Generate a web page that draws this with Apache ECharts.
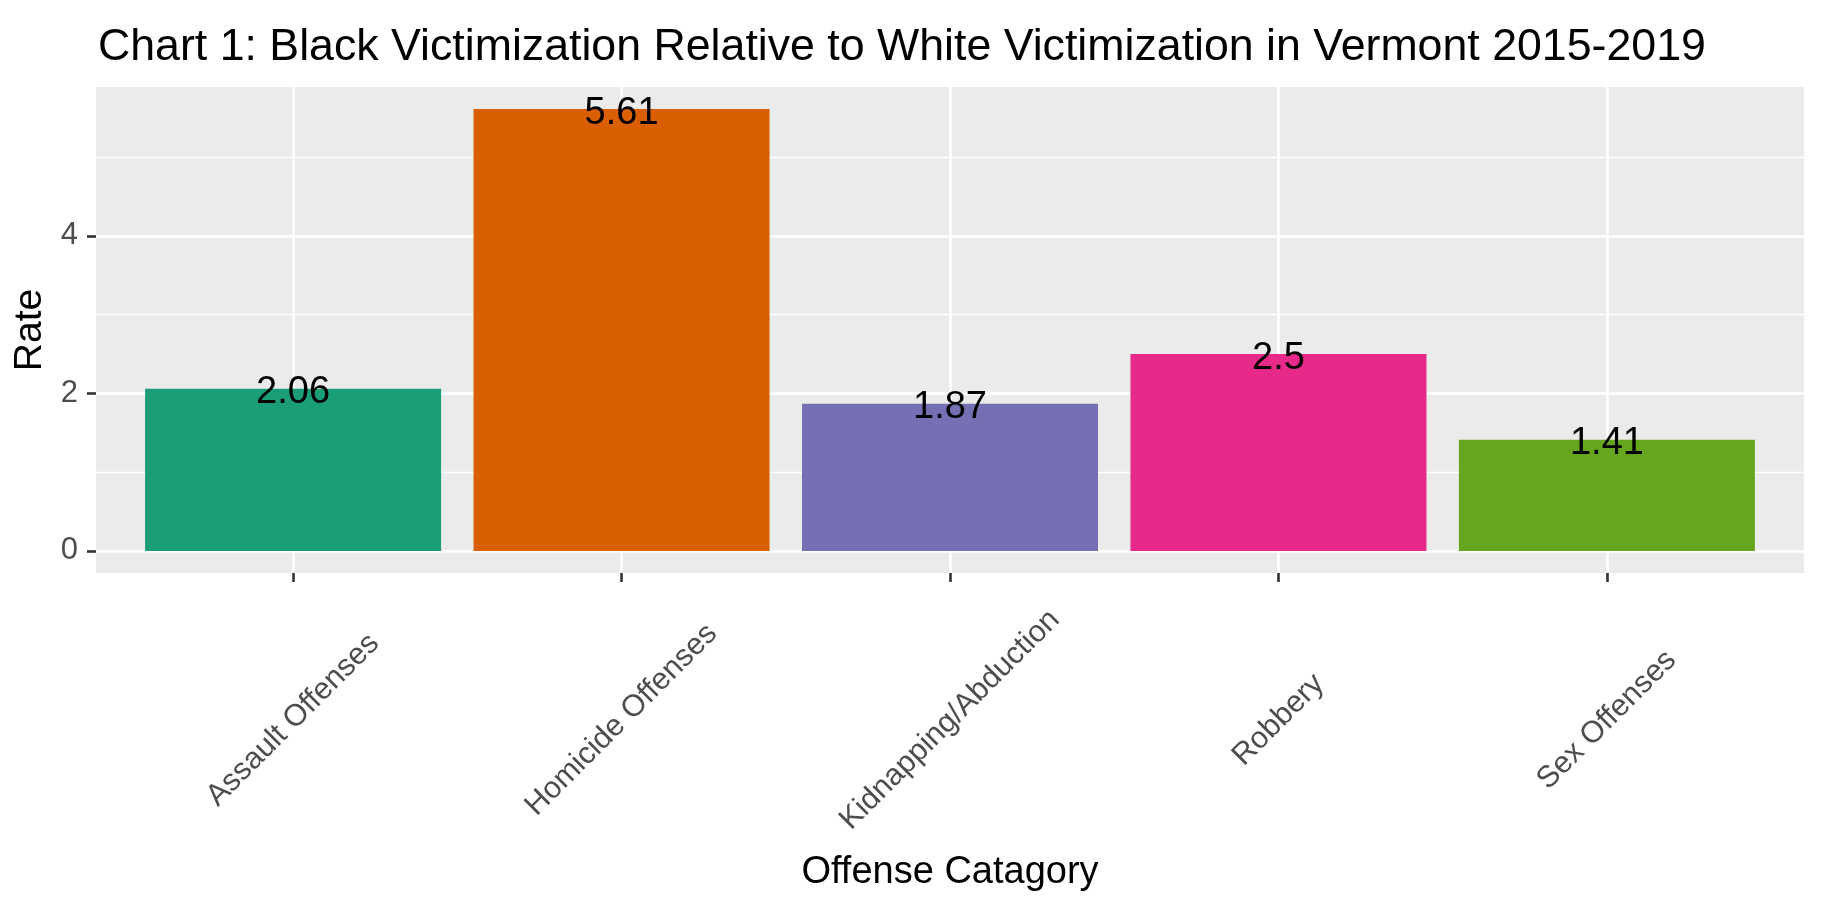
<!DOCTYPE html>
<html>
<head>
<meta charset="utf-8">
<script src="https://cdn.jsdelivr.net/npm/echarts@6/dist/echarts.min.js"></script>
<style>
html,body{margin:0;padding:0;background:#fff;}
#c{width:1827px;height:913px;}
</style>
</head>
<body>
<div id="c"></div>
<script>
const categories = ["Assault Offenses", "Homicide Offenses", "Kidnapping/Abduction", "Robbery", "Sex Offenses"];
const rates = [2.06, 5.61, 1.87, 2.5, 1.41];
const barColors = ["#1B9E77", "#D95F02", "#7570B3", "#E7298A", "#66A61E"];
const majorTicks = [0, 2, 4];
const minorTicks = [1, 3, 5];
const titleText = "Chart 1: Black Victimization Relative to White Victimization in Vermont 2015-2019";
const xTitle = "Offense Catagory";
const yTitle = "Rate";

const FONT = "Liberation Sans, Arial, sans-serif";
const yMax = Math.max(...rates);
const yPad = yMax * 0.05;
const catIdx = categories.map((c, i) => i);

const chart = echarts.init(document.getElementById('c'), null, {renderer: 'canvas'});
chart.setOption({
  animation: false,
  backgroundColor: '#ffffff',
  title: {
    text: titleText,
    left: 93, top: 20,
    textStyle: {fontFamily: FONT, fontSize: 44.7, fontWeight: 'normal', color: '#000'}
  },
  grid: {
    left: 96, right: 23, top: 87, bottom: 340,
    show: true, backgroundColor: '#EBEBEB', borderWidth: 0
  },
  xAxis: {
    type: 'value',
    position: 'bottom',
    min: -0.6, max: categories.length - 0.4,
    name: xTitle,
    nameLocation: 'middle',
    nameGap: 281,
    nameTextStyle: {fontFamily: FONT, fontSize: 38, color: '#000'},
    axisLine: {show: false, onZero: false},
    axisTick: {show: true, length: 9, customValues: catIdx, lineStyle: {color: '#333333', width: 2.6}},
    axisLabel: {
      customValues: catIdx,
      formatter: v => categories[Math.round(v)],
      rotate: 45, margin: 147, align: 'center', verticalAlign: 'middle',
      fontFamily: FONT, fontSize: 30.5, color: '#4D4D4D', hideOverlap: false
    },
    splitLine: {show: true, lineStyle: {color: '#ffffff', width: 2.6}}
  },
  yAxis: [{
    type: 'value',
    position: 'left',
    min: -yPad, max: yMax + yPad,
    name: yTitle,
    nameLocation: 'middle',
    nameGap: 46,
    nameMoveOverlap: false,
    nameRotate: 90,
    nameTextStyle: {fontFamily: FONT, fontSize: 39, color: '#000'},
    axisLine: {show: false, onZero: false},
    axisTick: {show: true, length: 9, customValues: majorTicks, lineStyle: {color: '#333333', width: 2.6}},
    axisLabel: {customValues: majorTicks, margin: 18, fontFamily: FONT, fontSize: 31, color: '#4D4D4D'},
    splitLine: {show: true, lineStyle: {color: '#ffffff', width: 2.6}}
  }, {
    type: 'value',
    position: 'left',
    min: -yPad, max: yMax + yPad,
    axisLine: {show: false, onZero: false},
    axisTick: {show: false, customValues: minorTicks},
    axisLabel: {show: false, customValues: minorTicks},
    splitLine: {show: true, lineStyle: {color: '#ffffff', width: 1.3}}
  }],
  series: [{
    type: 'bar',
    yAxisIndex: 0,
    data: rates.map((v, i) => ({value: [catIdx[i], v], itemStyle: {color: barColors[i]}})),
    barWidth: 296,
    label: {
      show: true,
      position: ['50%', 4],
      align: 'center', verticalAlign: 'middle',
      fontFamily: FONT, fontSize: 38, color: '#000',
      formatter: p => String(p.value[1])
    },
    z: 3
  }]
});
</script>
</body>
</html>
